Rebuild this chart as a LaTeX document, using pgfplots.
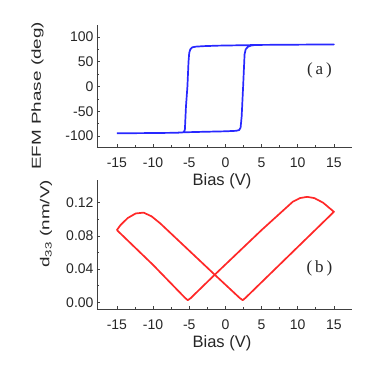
\documentclass[border=0pt]{standalone}
\usepackage{fontspec}
\setmainfont{Liberation Sans}
\newfontfamily\serifa{Liberation Serif}
\usepackage{pgfplots}
\pgfplotsset{compat=1.18}
\definecolor{cblue}{RGB}{40,40,255}
\definecolor{cred}{RGB}{255,40,40}
\begin{document}
\begin{tikzpicture}
\useasboundingbox (0,0) rectangle (369pt,376pt);
\pgfplotsset{myax/.style={
  scale only axis, width=255pt, anchor=south west,
  xmin=-17.75, xmax=17.5,
  axis x line*=bottom, axis y line*=left,
  axis line style={-, black!75, line width=0.7pt},
  tick align=inside, major tick length=3.5pt, minor tick length=2pt,
  every tick/.style={black!75, line width=0.7pt},
  xtick={-15,-10,...,15}, minor x tick num=1, minor y tick num=1,
  ticklabel style={font=\fontsize{14}{16}\selectfont, text=black!85},
  xticklabel style={yshift=-7pt},
  /pgf/number format/assume math mode=true,
  xlabel={Bias (V)},
  xlabel style={font=\fontsize{16.5}{18}\selectfont, text=black!85, anchor=center},
  ylabel style={font=\fontsize{13}{15}\selectfont, text=black!85, anchor=center, rotate=0},
  clip=false}}
% top panel
\begin{axis}[myax, at={(97pt,229pt)}, height=122pt,
  ymin=-122.2, ymax=124.2, ytick={-100,-50,0,50,100},
  xlabel style={at={(axis description cs:0.49,-0.279)}},
  ylabel={\scalebox{1.45}[1]{EFM Phase (deg)}},
  ylabel style={at={(axis description cs:-0.233,0.42)}}]
\addplot[cblue, line width=1.7pt, line join=round] coordinates {
(-15,-94.5) (-10,-94) (-7,-93.5) (-6,-93) (-5.75,-92) (-5.6,-87) (-5.45,-40) (-5.25,0) (-5.1,50) (-5.0,68) (-4.85,75) (-4.6,79) (-4.1,80.5) (-3,81.5) (-1,82.5) (1,83) (5,84) (10,84.5) (15,85)
(10,84.5) (5,84) (4,83.6) (3.5,82.5) (3.1,80) (2.8,75) (2.65,65) (2.45,0) (2.25,-60) (2.1,-83) (1.9,-88) (1.5,-89.5) (0,-90.5) (-3,-91.5) (-5.75,-92.5) (-7,-93.5) (-10,-94) (-15,-94.5)};
\node[font=\serifa\fontsize{17}{19}\selectfont, text=black!85] at (axis cs:13,33) {(\,a\,)};
\end{axis}
% bottom panel
\begin{axis}[myax, at={(97pt,67pt)}, height=129pt,
  ymin=-0.0081, ymax=0.1473, ytick={0,0.04,0.08,0.12},
  yticklabel style={/pgf/number format/.cd, fixed, fixed zerofill, precision=2},
  xlabel style={at={(axis description cs:0.49,-0.264)}},
  ylabel={\scalebox{1.45}[1]{d\textsubscript{33} (nm/V)}},
  ylabel style={at={(axis description cs:-0.2,0.66)}}]
\addplot[cred, line width=1.7pt, line join=round] coordinates {
(-15,0.087) (-10,0.045) (-5.6,0.0055) (-5.2,0.0025) (-4.8,0.005) (-1.5,0.033) (5,0.087) (9.3,0.121) (10.3,0.1255) (11.3,0.127) (12.3,0.1255) (13.5,0.120) (15,0.109)
(2.8,0.0055) (2.4,0.0025) (2.0,0.005) (-1.45,0.033) (-9.0,0.095) (-10.2,0.1035) (-11.3,0.108) (-12.4,0.107) (-13.5,0.1015) (-14.5,0.093) (-15,0.087)};
\node[font=\serifa\fontsize{17}{19}\selectfont, text=black!85] at (axis cs:13,0.041) {(\,b\,)};
\end{axis}
\end{tikzpicture}
\end{document}
